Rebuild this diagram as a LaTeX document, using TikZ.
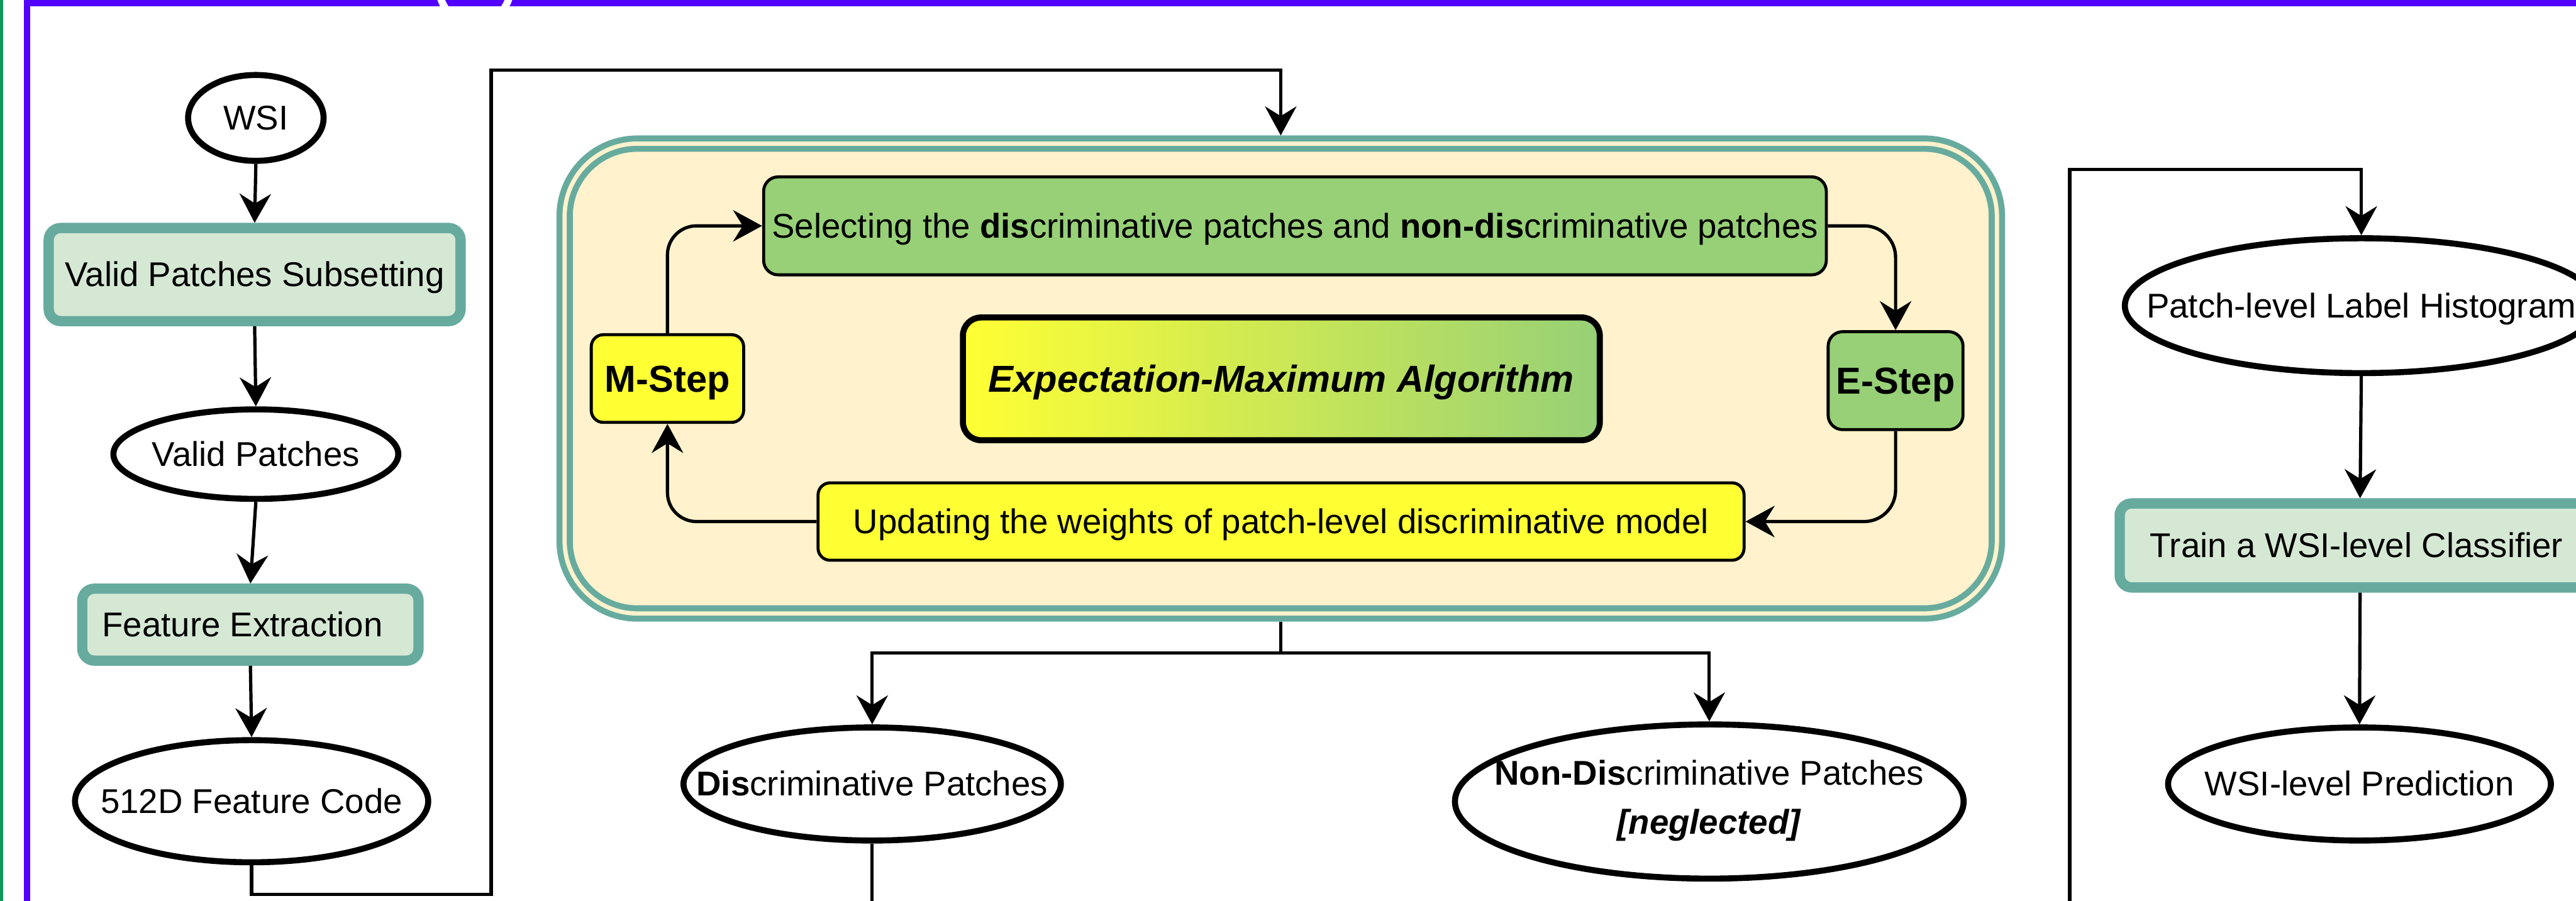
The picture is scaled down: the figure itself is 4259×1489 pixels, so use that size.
\documentclass[tikz,border=0pt]{standalone}
\usepackage{fontspec}
\setmainfont{Liberation Sans}
\usetikzlibrary{arrows.meta,shapes.geometric,calc}
\definecolor{tealS}{RGB}{103,171,159}
\definecolor{mintF}{RGB}{213,232,212}
\definecolor{creamF}{RGB}{255,242,204}
\definecolor{greenF}{RGB}{151,208,119}
\definecolor{yellowF}{RGB}{255,255,51}
\definecolor{purpleB}{RGB}{82,0,255}
\definecolor{greenL}{RGB}{14,152,88}
\newcommand{\ct}[1]{\makebox[0pt]{#1}}
\begin{document}
\begin{tikzpicture}[x=0.25pt,y=-0.25pt,
  every node/.style={font=\fontsize{14.2}{17}\selectfont, text height=12.6pt, text depth=2.8pt},
  conn/.style={line width=1.35pt, draw=black},
  arr/.style={conn, -{Stealth[length=12pt,width=13pt,inset=4pt]}},
  ell/.style={ellipse, draw=black, fill=white, line width=2.5pt, inner sep=0pt, outer sep=1.25pt},
  greenbox/.style={rectangle, rounded corners=5pt, draw=tealS, fill=mintF, line width=4.25pt, inner sep=0pt, outer sep=2.125pt},
  blackbox/.style={rectangle, rounded corners=6pt, draw=black, line width=1.25pt, inner sep=0pt, outer sep=0.625pt},
  bigbold/.style={font=\fontsize{15.5}{18}\selectfont\bfseries, text height=14pt, text depth=3.1pt}
]
\useasboundingbox (0,0) rectangle (4259,1489);
\clip (0,0) rectangle (4259,1489);
\fill[white] (0,0) rectangle (4259,1489);

% frame
\draw[purpleB, line width=2.5pt] (45,5) rectangle (4600,1700);
\draw[greenL, line width=1.5pt] (2.5,-20) -- (2.5,1600);
\draw[white, line width=3pt] (785,-20) circle[radius=14.75pt];

% left column
\node[ell, minimum width=56pt, minimum height=35.5pt] (wsi) at (423,195) {\ct{WSI}};
\node[greenbox, minimum width=170.25pt, minimum height=38.5pt] (vps) at (421,454) {Valid Patches Subsetting};
\node[ell, minimum width=117.75pt, minimum height=37pt] (vp) at (423,751) {\ct{Valid Patches}};
\node[greenbox, minimum width=139pt, minimum height=29.75pt] (fe) at (414,1033) {\ct{\hspace*{-6.5pt}Feature Extraction}};
\node[ell, minimum width=146pt, minimum height=50.5pt] (code) at (416,1325) {\ct{512D Feature Code}};

% EM block
\node[rectangle, rounded corners=30pt, draw=tealS, double=creamF, double distance=1.75pt, line width=2.5pt, fill=creamF, minimum width=592pt, minimum height=194.25pt, inner sep=0pt, outer sep=3.375pt] (em) at (2117.5,626) {};
\node[blackbox, fill=greenF, minimum width=439.25pt, minimum height=40.5pt] (sel) at (2141,373.5) {Selecting the \textbf{dis}criminative patches and \textbf{non-dis}criminative patches};
\node[blackbox, rounded corners=5pt, fill=yellowF, bigbold, minimum width=63pt, minimum height=36.25pt] (mstep) at (1103.5,626) {M-Step};
\node[blackbox, rounded corners=6pt, fill=greenF, bigbold, minimum width=55.75pt, minimum height=40.5pt] (estep) at (3134,629.5) {E-Step};
\node[rectangle, rounded corners=7.5pt, draw=black, line width=2.5pt, left color=yellowF, right color=greenF, minimum width=263.25pt, minimum height=50.75pt, inner sep=0pt, outer sep=1.25pt, font=\fontsize{15.5}{18}\selectfont\bfseries\itshape, text height=14pt, text depth=3.1pt] (emt) at (2118.5,626.5) {Expectation-Maximum Algorithm};
\node[blackbox, rounded corners=5pt, fill=yellowF, minimum width=382.75pt, minimum height=32pt] (upd) at (2118,862.5) {Updating the weights of patch-level discriminative model};

% outputs
\node[ell, minimum width=156pt, minimum height=46.75pt] (disc) at (1442,1296.5) {\ct{\textbf{Dis}criminative Patches}};
\node[ell, minimum width=210.25pt, minimum height=63.75pt, text height={}, text depth={}] (nondisc) at (2826,1325.5) {\ct{\begin{tabular}{@{}c@{}}\textbf{Non-Dis}criminative Patches\\[3.25pt]\textbf{\textit{[neglected]}}\end{tabular}}};

% right column
\node[ell, minimum width=195.5pt, minimum height=55.75pt] (hist) at (3904,505.5) {\ct{Patch-level Label Histogram}};
\node[greenbox, minimum width=198.75pt, minimum height=34.75pt] (train) at (3902,902) {\ct{\hspace*{-3pt}Train a WSI-level Classifier}};
\node[ell, minimum width=158.25pt, minimum height=46.75pt] (pred) at (3901,1296.5) {\ct{WSI-level Prediction}};

% coordinates
\coordinate (c1) at (812,1479);
\coordinate (c2) at (812,116);
\coordinate (split) at (2117.5,1080);
\coordinate (discend) at (1442,1520);
\coordinate (rbot) at (3422,1520);
\coordinate (rtop) at (3422,280);

% connectors
\draw[arr] (wsi.south) -- (vps.north);
\draw[arr] (vps.south) -- (vp.north);
\draw[arr] (vp.south) -- (fe.north);
\draw[arr] (fe.south) -- (code.north);
\draw[arr] (code.south) |- (c1) -- (c2) -| (em.north);

\draw[arr, rounded corners=12pt] (mstep.north) |- (sel.west);
\draw[arr, rounded corners=13pt] (sel.east) -| (estep.north);
\draw[arr, rounded corners=13pt] (estep.south) |- (upd.east);
\draw[arr, rounded corners=12pt] (upd.west) -| (mstep.south);

\draw[conn] (em.south) -- (split);
\draw[arr] (split) -| (disc.north);
\draw[arr] (split) -| (nondisc.north);
\draw[conn] (disc.south) -- (discend);

\draw[arr] (rbot) -- (rtop) -| (hist.north);
\draw[arr] (hist.south) -- (train.north);
\draw[arr] (train.south) -- (pred.north);
\end{tikzpicture}
\end{document}
